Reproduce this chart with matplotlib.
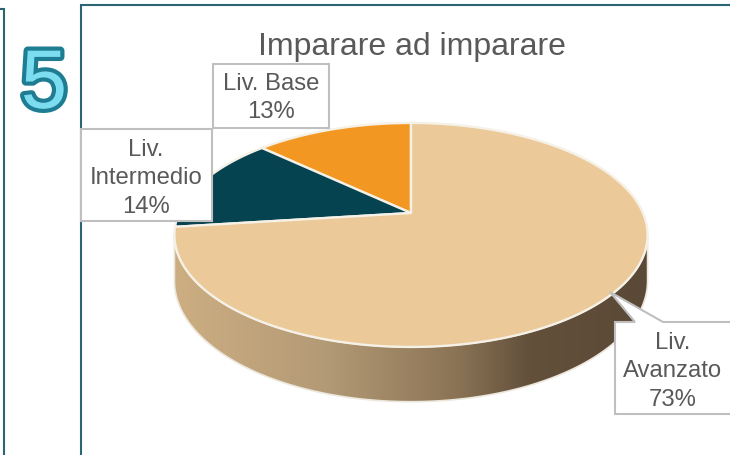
import numpy as np
import matplotlib
matplotlib.use("Agg")
import matplotlib.pyplot as plt
import matplotlib.patheffects as pe
from matplotlib.colors import LinearSegmentedColormap
from matplotlib.patches import Polygon, Rectangle

plt.rcParams['font.family'] = ['Liberation Sans', 'DejaVu Sans']

title = "Imparare ad imparare"
labels = ["Liv. Base", "Liv.\nIntermedio", "Liv.\nAvanzato"]
values = [13, 14, 73]
colors = ["#f39723", "#064350", "#ebc999"]

TEXT = "#595959"
FRAME = "#2a6571"
BOX = "#bfbfbf"
RIM = "#f6f1e6"

# pie geometry, in picture pixels
cx, cy = 411, 214
radius = 232
tilt = 107.7
persp = 0.196
depth = 44


def rim(angle, drop=0.0):
    # angle in degrees, counter-clockwise from the top of the pie
    a = np.radians(angle)
    u, v = -np.sin(a), np.cos(a)
    s = 1 + persp * v
    return np.column_stack([cx + radius * u / s, cy - tilt * v / s + drop * depth / s])


fig = plt.figure(figsize=(7.3, 4.56), dpi=100)
ax = fig.add_axes([0, 0, 1, 1])
ax.axis("off")

# panel frames
ax.plot([0, 4, 4], [10, 10, 456], color=FRAME, lw=1.5, solid_joinstyle="miter")
ax.plot([81, 81, 730], [456, 6, 6], color=FRAME, lw=1.5, solid_joinstyle="miter")

ax.text(44, 87, "5", fontsize=60, ha="center", va="center", color="#7cdcf0",
        path_effects=[pe.withStroke(linewidth=6, foreground="#1f7d93")])

# side of the pie, gradient clipped to the band under the front rim
front = np.linspace(101, 259, 200)
band = np.vstack([rim(front), rim(front[::-1], 1.0)])
side = Polygon(band, closed=True, facecolor="none", edgecolor="#ece7dc", lw=1.2, zorder=2)
ax.add_patch(side)
side_cmap = LinearSegmentedColormap.from_list(
    "side", [(0, "#cdae82"), (0.32, "#b39a76"), (0.6, "#8a7355"), (0.75, "#63503b"), (1, "#5a4936")])
grad = ax.imshow(np.linspace(0, 1, 256)[None, :], cmap=side_cmap, extent=(174, 648, 410, 200),
                 aspect="auto", zorder=1)
grad.set_clip_path(side)

# top of the pie
start = 0
for value, color in zip(values, colors):
    stop = start + value * 3.6
    arc = rim(np.linspace(start, stop, 200))
    ax.add_patch(Polygon(np.vstack([[cx, cy], arc]), closed=True, facecolor=color,
                         edgecolor=RIM, lw=1.7, zorder=3))
    start = stop

ax.text(411.5, 47.5, title, fontsize=23, color=TEXT, ha="center", va="center", zorder=6)

# data labels
ax.add_patch(Rectangle((213, 65), 116, 64, facecolor="white", edgecolor=BOX, lw=1.5, zorder=4))
ax.add_patch(Rectangle((81, 130), 131, 92, facecolor="white", edgecolor=BOX, lw=1.5, zorder=4))
ax.add_patch(Polygon([(615, 323), (635, 323), (610, 293), (663, 323), (735, 323), (735, 415), (615, 415)],
                     closed=True, facecolor="white", edgecolor=BOX, lw=1.5, zorder=4))

positions = [(271, 98), (146, 178.5), (673, 371.5)]
for label, value, (x, y) in zip(labels, values, positions):
    ax.text(x, y, f"{label}\n{value}%", fontsize=17.2, color=TEXT, ha="center", va="center",
            linespacing=1.36, zorder=6)

ax.set_xlim(0, 730)
ax.set_ylim(456, 0)

fig.savefig("out.png", dpi=100)
